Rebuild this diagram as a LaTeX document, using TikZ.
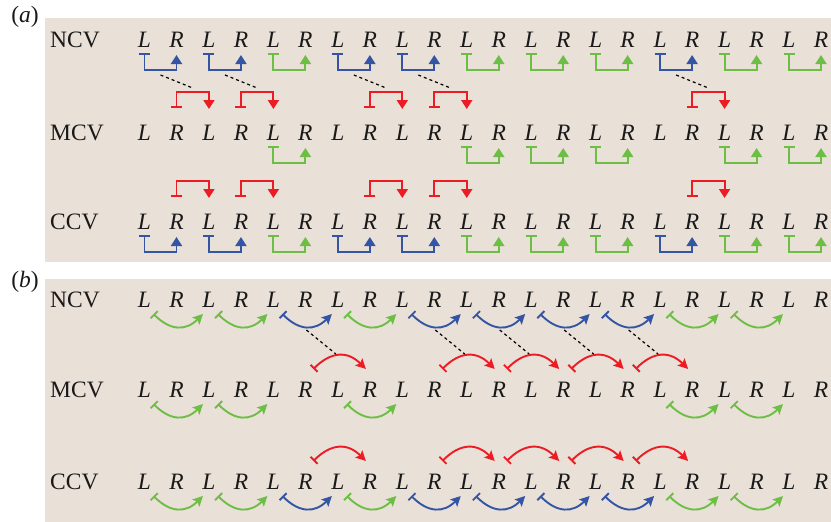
\documentclass[tikz,border=0pt]{standalone}
\usepackage{fontspec}
\setmainfont{Liberation Serif}
\usetikzlibrary{arrows.meta,calc}
\definecolor{bgc}{RGB}{233,224,215}
\definecolor{cB}{RGB}{52,84,164}
\definecolor{cG}{RGB}{108,190,69}
\definecolor{cR}{RGB}{237,28,36}
\tikzset{
  lt/.style={inner sep=0pt, font=\fontsize{23.5}{25}\selectfont\itshape, text=black!90},
  rowlab/.style={inner sep=0pt, anchor=west, font=\fontsize{23.5}{25}\selectfont, text=black!90},
  panlab/.style={inner sep=0pt, font=\fontsize{23.5}{25}\selectfont, text=black!90},
  brk/.style={line width=1.9pt, {Bar[width=11pt]}-{Triangle[length=9pt,width=11pt]}},
  curvearrow/.style={line width=1.9pt, {Bar[width=10pt]}-{Stealth[length=10pt,width=10pt,inset=2pt]}},
  dotline/.style={line width=1.2pt, dash pattern=on 3pt off 3pt},
}
\begin{document}
\begin{tikzpicture}[x=1pt,y=1pt]
\useasboundingbox (0,0) rectangle (831,-522);
\fill[bgc] (45,-18) rectangle (831,-262);
\fill[bgc] (45,-279) rectangle (831,-522);
\node[panlab] (pa) at (25,-17) {(\textit{a})};
\node[panlab] (pb) at (25,-282) {(\textit{b})};
% row labels
\node[rowlab] (aNlab) at (50,-40) {NCV};
\node[rowlab] (aMlab) at (50,-133) {MCV};
\node[rowlab] (aClab) at (50,-222) {CCV};
\node[rowlab] (bNlab) at (50,-300) {NCV};
\node[rowlab] (bMlab) at (50,-390) {MCV};
\node[rowlab] (bClab) at (50,-482) {CCV};
% letters
\foreach \r/\y in {aN/40,aM/133,aC/222,bN/300,bM/390,bC/482}{
  \foreach \k in {0,...,10}{
    \node[lt] (\r-L\k) at ({144.5+64.45*\k},{-\y}) {L};
    \node[lt] (\r-R\k) at ({176.5+64.45*\k},{-\y}) {R};
  }
}
% ---------- panel (a) ----------
\foreach \k/\c in {0/cB,1/cB,2/cG,3/cB,4/cB,5/cG,6/cG,7/cG,8/cB,9/cG,10/cG}{
  \draw[brk,\c] ($(aN-L\k)+(0,-13)$) -- ($(aN-L\k)+(0,-30)$) -| ($(aN-R\k)+(0,-15)$);
  \draw[brk,\c] ($(aC-L\k)+(0,-13)$) -- ($(aC-L\k)+(0,-30)$) -| ($(aC-R\k)+(0,-15)$);
}
\foreach \k in {2,5,6,7,9,10}{
  \draw[brk,cG] ($(aM-L\k)+(0,-13)$) -- ($(aM-L\k)+(0,-30)$) -| ($(aM-R\k)+(0,-15)$);
}
\foreach \k [evaluate=\k as \n using int(\k+1)] in {0,1,3,4,8}{
  \draw[brk,cR] ($(aM-R\k)+(0,25)$) -- ($(aM-R\k)+(0,41)$) -| ($(aM-L\n)+(0,24)$);
  \draw[brk,cR] ($(aC-R\k)+(0,25)$) -- ($(aC-R\k)+(0,41)$) -| ($(aC-L\n)+(0,24)$);
  \draw[dotline] ($(aN-L\k)!0.5!(aN-R\k)+(0,-35)$) -- ($(aM-R\k)!0.5!(aM-L\n)+(0,45)$);
}
% ---------- panel (b) ----------
\foreach \k/\c [evaluate=\k as \n using int(\k+1)] in {0/cG,1/cG,2/cB,3/cG,4/cB,5/cB,6/cB,7/cB,8/cG,9/cG}{
  \draw[curvearrow,\c] ($(bN-L\k)+(9,-14)$) to[out=-45,in=-135,looseness=1.25] ($(bN-L\n)+(-6,-14)$);
  \draw[curvearrow,\c] ($(bC-L\k)+(9,-14)$) to[out=-45,in=-135,looseness=1.25] ($(bC-L\n)+(-6,-14)$);
}
\foreach \k [evaluate=\k as \n using int(\k+1)] in {0,1,3,8,9}{
  \draw[curvearrow,cG] ($(bM-L\k)+(9,-14)$) to[out=-45,in=-135,looseness=1.25] ($(bM-L\n)+(-6,-14)$);
}
\foreach \k [evaluate=\k as \n using int(\k+1)] in {2,4,5,6,7}{
  \draw[curvearrow,cR] ($(bM-R\k)+(8,21)$) to[out=45,in=135,looseness=1.25] ($(bM-R\n)+(-4,21)$);
  \draw[curvearrow,cR] ($(bC-R\k)+(8,21)$) to[out=45,in=135,looseness=1.25] ($(bC-R\n)+(-4,21)$);
  \draw[dotline] ($(bN-R\k)+(1,-30)$) -- ($(bM-L\n)+(-2,36)$);
}
\end{tikzpicture}
\end{document}
